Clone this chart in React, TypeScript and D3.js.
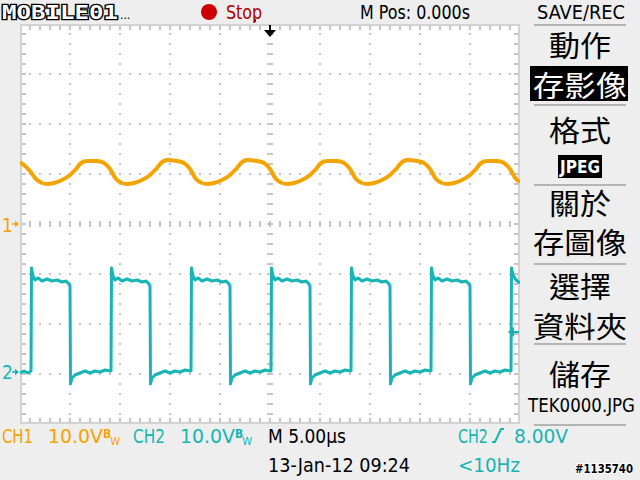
import React from 'react';
import * as d3 from 'd3';

// CH1 ripple: [time µs, volts]
const ch1Trace: [number, number][] = [
  [-25.0, 12.4], [-24.0, 10.6], [-23.4, 9.0],
  [-22.8, 8.2], [-22.3, 8.0], [-21.6, 8.2], [-20.8, 8.8], [-20.0, 9.8], [-19.4, 11.0], [-18.9, 12.2],
  [-18.3, 12.6], [-17.3, 12.6], [-16.6, 12.2], [-16.0, 11.0], [-15.4, 9.0],
  [-14.8, 8.2], [-14.3, 8.0], [-13.6, 8.2], [-12.8, 8.8], [-12.0, 9.8], [-11.4, 11.0], [-10.9, 12.2],
  [-10.3, 12.8], [-9.3, 12.6], [-8.6, 12.2], [-8.0, 11.0], [-7.4, 9.0],
  [-6.8, 8.2], [-6.3, 8.0], [-5.6, 8.2], [-4.8, 8.8], [-4.0, 9.8], [-3.4, 11.0], [-2.9, 12.2],
  [-2.3, 12.8], [-1.3, 12.6], [-0.6, 12.2], [0.0, 11.0], [0.6, 9.0],
  [1.2, 8.2], [1.7, 8.0], [2.4, 8.2], [3.2, 8.8], [4.0, 9.8], [4.6, 11.0], [5.1, 12.2],
  [5.7, 12.6], [6.7, 12.6], [7.4, 12.2], [8.0, 11.0], [8.6, 9.0],
  [9.2, 8.2], [9.7, 8.0], [10.4, 8.2], [11.2, 8.8], [12.0, 9.8], [12.6, 11.0], [13.1, 12.2],
  [13.7, 12.8], [14.7, 12.6], [15.4, 12.2], [16.0, 11.0], [16.6, 9.0],
  [17.2, 8.2], [17.7, 8.0], [18.4, 8.2], [19.2, 8.8], [20.0, 9.8], [20.6, 11.0], [21.1, 12.2],
  [21.7, 12.6], [22.7, 12.6], [23.4, 12.2], [24.0, 11.0], [24.6, 9.0], [25.0, 8.4],
];

// CH2 square wave: [time µs, volts]
const ch2Trace: [number, number][] = [
  [-25.0, -0.2], [-24.6, 0.2], [-24.2, -0.2],
  [-23.9, 0.2], [-23.85, 20.8], [-23.7, 19.2], [-23.5, 18.4], [-23.2, 18.8], [-22.8, 18.2], [-22.3, 18.6],
  [-21.8, 18.2], [-21.3, 18.4], [-20.8, 18.0], [-20.4, 18.2], [-20.1, 17.6], [-20.0, 17.2],
  [-19.95, -2.4], [-19.8, -1.2], [-19.5, -0.6], [-19.0, -0.2], [-18.5, 0.2], [-18.0, -0.2],
  [-17.5, 0.2], [-17.0, 0.0], [-16.5, 0.4], [-16.0, 0.2],
  [-15.9, 0.2], [-15.85, 20.8], [-15.7, 19.2], [-15.5, 18.4], [-15.2, 18.8], [-14.8, 18.2], [-14.3, 18.6],
  [-13.8, 18.2], [-13.3, 18.4], [-12.8, 18.0], [-12.4, 18.2], [-12.1, 17.6], [-12.0, 17.2],
  [-11.95, -2.4], [-11.8, -1.2], [-11.5, -0.6], [-11.0, -0.2], [-10.5, 0.2], [-10.0, -0.2],
  [-9.5, 0.2], [-9.0, 0.0], [-8.5, 0.4], [-8.0, 0.2],
  [-7.9, 0.2], [-7.85, 20.8], [-7.7, 19.2], [-7.5, 18.4], [-7.2, 18.8], [-6.8, 18.2], [-6.3, 18.6],
  [-5.8, 18.2], [-5.3, 18.4], [-4.8, 18.0], [-4.4, 18.2], [-4.1, 17.6], [-4.0, 17.2],
  [-3.95, -2.4], [-3.8, -1.2], [-3.5, -0.6], [-3.0, -0.2], [-2.5, 0.2], [-2.0, -0.2],
  [-1.5, 0.2], [-1.0, 0.0], [-0.5, 0.4], [0.0, 0.2],
  [0.1, 0.2], [0.15, 20.8], [0.3, 19.2], [0.5, 18.4], [0.8, 18.8], [1.2, 18.2], [1.7, 18.6],
  [2.2, 18.2], [2.7, 18.4], [3.2, 18.0], [3.6, 18.2], [3.9, 17.6], [4.0, 17.2],
  [4.05, -2.4], [4.2, -1.2], [4.5, -0.6], [5.0, -0.2], [5.5, 0.2], [6.0, -0.2],
  [6.5, 0.2], [7.0, 0.0], [7.5, 0.4], [8.0, 0.2],
  [8.1, 0.2], [8.15, 20.8], [8.3, 19.2], [8.5, 18.4], [8.8, 18.8], [9.2, 18.2], [9.7, 18.6],
  [10.2, 18.2], [10.7, 18.4], [11.2, 18.0], [11.6, 18.2], [11.9, 17.6], [12.0, 17.2],
  [12.05, -2.4], [12.2, -1.2], [12.5, -0.6], [13.0, -0.2], [13.5, 0.2], [14.0, -0.2],
  [14.5, 0.2], [15.0, 0.0], [15.5, 0.4], [16.0, 0.2],
  [16.1, 0.2], [16.15, 20.8], [16.3, 19.2], [16.5, 18.4], [16.8, 18.8], [17.2, 18.2], [17.7, 18.6],
  [18.2, 18.2], [18.7, 18.4], [19.2, 18.0], [19.6, 18.2], [19.9, 17.6], [20.0, 17.2],
  [20.05, -2.4], [20.2, -1.2], [20.5, -0.6], [21.0, -0.2], [21.5, 0.2], [22.0, -0.2],
  [22.5, 0.2], [23.0, 0.0], [23.5, 0.4], [24.0, 0.2],
  [24.1, 0.2], [24.15, 20.8], [24.3, 19.4], [24.6, 18.4], [25.0, 17.8],
];

// scope settings
const voltsPerDiv = 10;
const ch1Position = 0; // divisions
const ch2Position = -2.96;
const triggerLevel = 8.0;

const menuItems = ['動作', '存影像', '格式', '關於', '存圖像', '選擇', '資料夾', '儲存'];

const CH1 = '#f5a300';
const CH2 = '#16b4b4';
const GRID = '#c4c4c4';
const BG = '#eeeeee';
const LATIN = "'DejaVu Sans Condensed', 'DejaVu Sans', sans-serif";
const CJK = "'Noto Sans CJK TC', 'Noto Sans CJK SC', sans-serif";

const left = 20, right = 520, top = 24, bottom = 424;

const App: React.FC = () => {
  const x = d3.scaleLinear().domain([-25, 25]).range([left, right]);
  const divX = d3.scaleLinear().domain([-5, 5]).range([left, right]);
  const divY = d3.scaleLinear().domain([-4, 4]).range([bottom, top]);

  const line1 = d3
    .line<[number, number]>()
    .x((d) => x(d[0]))
    .y((d) => divY(d[1] / voltsPerDiv + ch1Position))
    .curve(d3.curveMonotoneX);
  const line2 = d3
    .line<[number, number]>()
    .x((d) => x(d[0]))
    .y((d) => divY(d[1] / voltsPerDiv + ch2Position));

  const minorX = d3.range(1, 50).map((i) => divX(i / 5 - 5));
  const minorY = d3.range(1, 40).map((i) => divY(i / 5 - 4));
  const majorX = [-4, -3, -2, -1, 1, 2, 3, 4].map((d) => divX(d));
  const majorY = [-3, -2, -1, 1, 2, 3].map((d) => divY(d));
  const cx = divX(0);
  const cy = divY(0);

  const ch1Ground = divY(ch1Position);
  const ch2Ground = divY(ch2Position);
  const trigY = divY(triggerLevel / voltsPerDiv + ch2Position);

  const txt = { fontFamily: LATIN, fontSize: 20 };

  return (
    <div style={{ position: 'absolute', left: 0, top: 0 }}>
      <svg width={640} height={480} style={{ display: 'block' }}>
        <rect width={640} height={480} fill={BG} />
        <defs>
          <clipPath id="plot">
            <rect x={left} y={top} width={right - left} height={bottom - top} />
          </clipPath>
        </defs>

        {/* graticule */}
        <rect x={left} y={top} width={right - left} height={bottom - top} fill="#fff" />
        {majorX.map((gx) =>
          minorY.map((gy) => <rect key={`v${gx}-${gy}`} x={gx - 1} y={gy - 1} width={2} height={2} fill={GRID} />)
        )}
        {majorY.map((gy) =>
          minorX.map((gx) => <rect key={`h${gx}-${gy}`} x={gx - 1} y={gy - 1} width={2} height={2} fill={GRID} />)
        )}
        {minorY.map((gy) => (
          <rect key={`cv${gy}`} x={cx - 3} y={gy - 1} width={6} height={2} fill={GRID} />
        ))}
        {minorX.map((gx) => (
          <rect key={`ch${gx}`} x={gx - 1} y={cy - 3} width={2} height={6} fill={GRID} />
        ))}
        {minorX.map((gx) => (
          <g key={`e${gx}`}>
            <rect x={gx - 1} y={top} width={2} height={6} fill={GRID} />
            <rect x={gx - 1} y={bottom - 6} width={2} height={6} fill={GRID} />
          </g>
        ))}
        {minorY.map((gy) => (
          <g key={`f${gy}`}>
            <rect x={left} y={gy - 1} width={6} height={2} fill={GRID} />
            <rect x={right - 6} y={gy - 1} width={6} height={2} fill={GRID} />
          </g>
        ))}
        <rect x={left + 1} y={top + 1} width={right - left - 2} height={bottom - top - 2} fill="none" stroke="#d2d2d2" strokeWidth={2} />

        {/* traces */}
        <g clipPath="url(#plot)">
          <path d={line1(ch1Trace) ?? ''} fill="none" stroke={CH1} strokeWidth={4} strokeLinejoin="round" />
          <path d={line2(ch2Trace) ?? ''} fill="none" stroke={CH2} strokeWidth={3} strokeLinejoin="round" />
        </g>

        {/* channel ground markers */}
        <text x={2} y={ch1Ground + 8} fill={CH1} {...txt} fontSize={19}>1</text>
        <path d={`M12,${ch1Ground - 0.8}h3v-2.5l4,3.3l-4,3.3v-2.5h-3z`} fill={CH1} />
        <text x={2} y={ch2Ground + 7} fill={CH2} {...txt} fontSize={19}>2</text>
        <path d={`M12,${ch2Ground - 0.8}h3v-2.5l4,3.3l-4,3.3v-2.5h-3z`} fill={CH2} />
        {/* trigger level */}
        <path d={`M519,${trigY - 1}h-5v-4l-6,5l6,5v-4h5z`} fill={CH2} />
        {/* trigger position */}
        <path d={`M${cx - 1},25h2v5h5l-6,7l-6,-7h5z`} fill="#000" />
        <rect x={254} y={19} width={2} height={3} fill="#c00000" />

        {/* top bar */}
        <text x={2} y={19} fontFamily="'DejaVu Sans Mono', monospace" fontWeight="bold" fontSize={19}
          fill="#fff" stroke="#000" strokeWidth={2.5} paintOrder="stroke" textLength={116} lengthAdjust="spacingAndGlyphs">
          MOBILE01
        </text>
        <text x={120} y={19} fontFamily={LATIN} fontSize={12} fill="#000">...</text>
        <circle cx={209} cy={12} r={8} fill="#cc0000" />
        <text x={226} y={19} {...txt} fill="#b00000" textLength={36} lengthAdjust="spacingAndGlyphs">Stop</text>
        <text x={360} y={19} {...txt} fill="#000" textLength={110} lengthAdjust="spacingAndGlyphs">M Pos: 0.000s</text>
        <text x={537} y={19} {...txt} fill="#000" textLength={88} lengthAdjust="spacingAndGlyphs">SAVE/REC</text>

        {/* side menu */}
        {[25, 105, 185, 264, 344, 425].map((ly) => (
          <rect key={`sep${ly}`} x={534} y={ly - 1} width={92} height={2} fill="#b4b4b4" />
        ))}
        <rect x={530} y={66} width={98} height={35} fill="#000" />
        {menuItems.map((label, i) => {
          const centers = [43.5, 83.5, 128.5, 201.5, 240.5, 284.5, 324.5, 372.5];
          const w = label.length === 3 ? 94 : 62;
          return (
            <text key={label} x={580 - w / 2} y={centers[i]} dominantBaseline="central"
              fontFamily={CJK} fontSize={29} fill={i === 1 ? '#fff' : '#000'}
              textLength={w} lengthAdjust="spacingAndGlyphs">
              {label}
            </text>
          );
        })}
        <rect x={558} y={155} width={44} height={23} fill="#000" />
        <text x={560} y={173} fontFamily={LATIN} fontWeight="bold" fontSize={17} fill="#fff"
          textLength={40} lengthAdjust="spacingAndGlyphs">JPEG</text>
        <text x={528} y={412} {...txt} fontSize={19} fill="#000" textLength={107} lengthAdjust="spacingAndGlyphs">TEK0000.JPG</text>

        {/* bottom status */}
        <text x={2} y={443} {...txt} fill={CH1} textLength={31} lengthAdjust="spacingAndGlyphs">CH1</text>
        <text x={48} y={443} {...txt} fill={CH1} textLength={55} lengthAdjust="spacingAndGlyphs">10.0V</text>
        <text x={103} y={438} fontFamily={LATIN} fontWeight="bold" fontSize={12} fill={CH1}>
          B<tspan dx={-1} dy={7} fontWeight="normal" fontSize={11}>W</tspan>
        </text>
        <text x={133} y={443} {...txt} fill={CH2} textLength={32} lengthAdjust="spacingAndGlyphs">CH2</text>
        <text x={180} y={443} {...txt} fill={CH2} textLength={55} lengthAdjust="spacingAndGlyphs">10.0V</text>
        <text x={235} y={438} fontFamily={LATIN} fontWeight="bold" fontSize={12} fill={CH2}>
          B<tspan dx={-1} dy={7} fontWeight="normal" fontSize={11}>W</tspan>
        </text>
        <text x={268} y={443} {...txt} fill="#000" textLength={78} lengthAdjust="spacingAndGlyphs">M 5.00µs</text>
        <text x={458} y={443} {...txt} fill={CH2} textLength={30} lengthAdjust="spacingAndGlyphs">CH2</text>
        <path d="M492,442h3l6,-13h3" fill="none" stroke={CH2} strokeWidth={2} />
        <text x={514} y={443} {...txt} fill={CH2} textLength={54} lengthAdjust="spacingAndGlyphs">8.00V</text>
        <text x={268} y={472} {...txt} fill="#000" textLength={142} lengthAdjust="spacingAndGlyphs">13-Jan-12 09:24</text>
        <text x={458} y={472} {...txt} fill={CH2} textLength={62} lengthAdjust="spacingAndGlyphs">&lt;10Hz</text>
        <text x={575} y={473} fontFamily={LATIN} fontWeight="bold" fontSize={12} fill="#000"
          stroke="#fff" strokeWidth={2} paintOrder="stroke" textLength={58} lengthAdjust="spacingAndGlyphs">#1135740</text>
      </svg>
    </div>
  );
};

export default App;
